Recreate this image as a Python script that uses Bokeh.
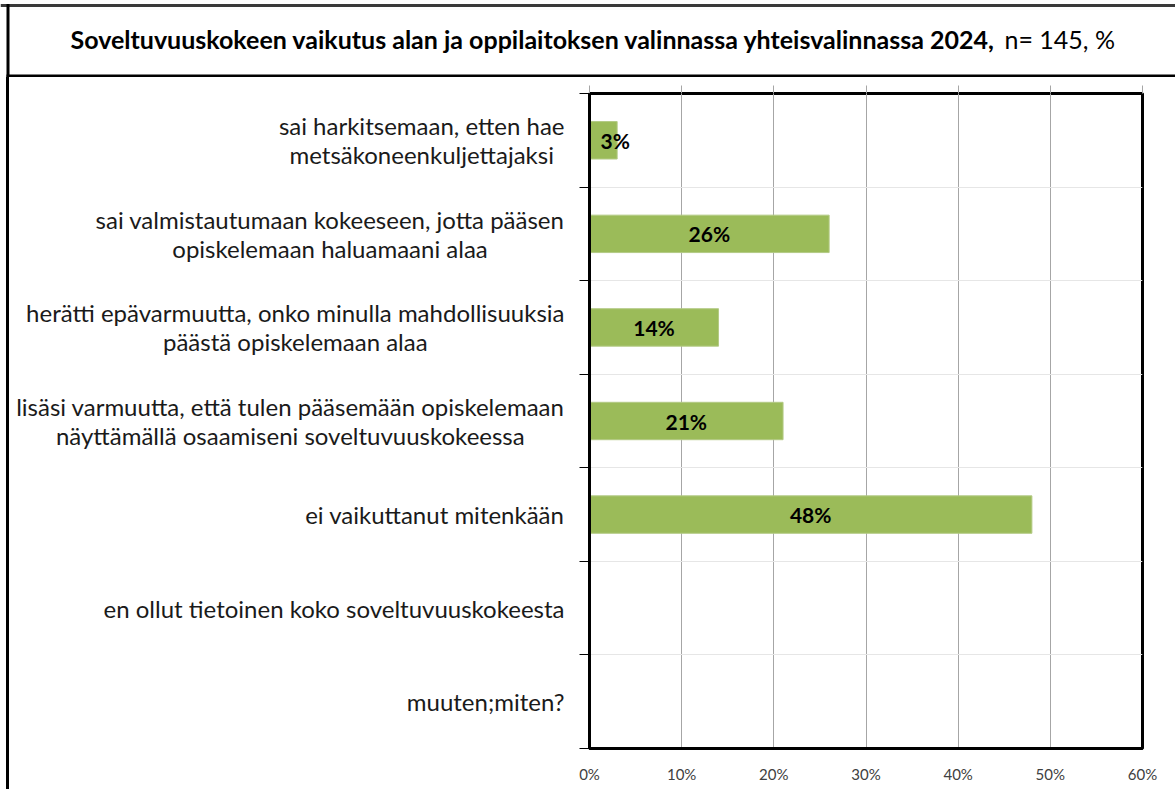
from bokeh.plotting import figure
from bokeh.models import Range1d, FixedTicker, LinearAxis, ColumnDataSource, Div
from bokeh.layouts import column, row
from bokeh.core.properties import value
from bokeh.embed import file_html
from bokeh.resources import INLINE

# ---------------- data ----------------
categories = [
    "sai harkitsemaan, etten hae\nmetsäkoneenkuljettajaksi",
    "sai valmistautumaan kokeeseen, jotta pääsen\nopiskelemaan haluamaani alaa",
    "herätti epävarmuutta, onko minulla mahdollisuuksia\npäästä opiskelemaan alaa",
    "lisäsi varmuutta, että tulen pääsemään opiskelemaan\nnäyttämällä osaamiseni soveltuvuuskokeessa",
    "ei vaikuttanut mitenkään",
    "en ollut tietoinen koko soveltuvuuskokeesta",
    "muuten;miten?",
]
values = [3, 26, 14, 21, 48, 0, 0]
x_ticks = [0, 10, 20, 30, 40, 50, 60]
x_tick_labels = ["0%", "10%", "20%", "30%", "40%", "50%", "60%"]
title_bold = "Soveltuvuuskokeen vaikutus alan ja oppilaitoksen valinnassa yhteisvalinnassa 2024,"
title_rest = "n= 145, %"

# ---------------- layout (page pixels) ----------------
W, H = 1175, 789
TITLE_H = 77                         # height of the title box strip
EDGE_W = 9                           # strip holding the outer left border line
LAB_W = 560                          # width of the category-label strip
FL, FR, FT, FB = 589, 1142, 93, 748  # chart frame edges on the page
XMAX = 60
N = len(categories)
FONT = "Lato"


def bare(fig):
    fig.grid.visible = False
    fig.outline_line_color = None
    fig.background_fill_color = "white"
    fig.border_fill_color = "white"
    return fig


# ---------------- title strip (box lines drawn as CSS shadows) ----------------
pt = bare(figure(width=W, height=TITLE_H, x_range=Range1d(0, W), y_range=Range1d(TITLE_H, 0),
                 x_axis_location=None, y_axis_location=None, min_border=0,
                 output_backend="svg", toolbar_location=None))
pt.quad(left=[0], right=[W], top=[3.5], bottom=[6.5], fill_color="#3a3a3a", line_color=None)
pt.quad(left=[6], right=[9], top=[3.5], bottom=[TITLE_H], fill_color="black", line_color=None)
pt.quad(left=[6], right=[W], top=[74], bottom=[77], fill_color="black", line_color=None)
pt.text(x=[70], y=[38], text=[title_bold], text_align="left", text_baseline="middle",
        text_font=value(FONT), text_font_style="bold", text_font_size="25px", text_color="black")
pt.text(x=[1004], y=[38], text=[title_rest], text_align="left", text_baseline="middle",
        text_font=value(FONT), text_font_size="25px", text_color="black")
# cover strip at the far right (no right border in the original)
pt.quad(left=[W - 6], right=[W], top=[7], bottom=[73.5], fill_color="white", line_color=None)

# ---------------- outer left border of the chart box ----------------
edge = Div(text="", width=EDGE_W, height=H - TITLE_H, margin=0,
           styles={"box-shadow": "inset -3px 0 0 0 black", "background-color": "white"})

# ---------------- category label strip ----------------
ys = [N - i - 0.5 for i in range(N)]
pl = bare(figure(width=LAB_W, height=H - TITLE_H, x_range=Range1d(EDGE_W, EDGE_W + LAB_W),
                 y_range=Range1d(0, N),
                 x_axis_location=None, y_axis_location=None,
                 min_border_left=0, min_border_right=0,
                 min_border_top=FT - TITLE_H, min_border_bottom=H - FB,
                 output_backend="svg", toolbar_location=None))
pl.text(x=[564] * N, y=ys, text=categories, anchor=value("center_right"),
        text_align="center", text_baseline="middle",
        text_font=value(FONT), text_font_size="24px", text_line_height=1.0,
        text_color="#1a1a1a")

# ---------------- chart ----------------
CW = W - EDGE_W - LAB_W
CH = H - TITLE_H
OX = EDGE_W + LAB_W
p = figure(width=CW, height=CH, x_range=Range1d(0, XMAX), y_range=Range1d(0, N),
           output_backend="svg", toolbar_location=None,
           min_border_left=FL - OX, min_border_right=CW - (FR - OX),
           min_border_top=FT - TITLE_H, min_border_bottom=H - FB)
p.background_fill_color = "white"
p.border_fill_color = "white"
p.outline_line_color = "black"
p.outline_line_width = 3

p.xgrid.ticker = FixedTicker(ticks=x_ticks)
p.xgrid.grid_line_color = "#a6a6a6"
p.xgrid.grid_line_width = 1
p.ygrid.ticker = FixedTicker(ticks=list(range(N + 1)))
p.ygrid.grid_line_color = "#e6e6e6"
p.ygrid.grid_line_width = 1

xa = p.xaxis[0]
xa.ticker = FixedTicker(ticks=x_ticks)
xa.major_label_overrides = {t: l for t, l in zip(x_ticks, x_tick_labels)}
xa.major_tick_out = 0
xa.major_tick_in = 0
xa.minor_tick_out = 0
xa.minor_tick_in = 0
xa.axis_line_width = 3
xa.axis_line_color = "black"
xa.major_label_standoff = 16
xa.major_label_text_font = FONT
xa.major_label_text_font_size = "15px"
xa.major_label_text_color = "#404040"

ya = p.yaxis[0]
ya.ticker = FixedTicker(ticks=list(range(N + 1)))
ya.major_label_overrides = {i: "" for i in range(N + 1)}
ya.major_tick_out = 10
ya.major_tick_in = 0
ya.minor_tick_out = 0
ya.minor_tick_in = 0
ya.major_tick_line_color = "black"
ya.axis_line_width = 3
ya.axis_line_color = "black"
ya.major_label_standoff = 0
ya.major_label_text_font_size = "1px"

# small grey stubs of the vertical gridlines above the frame
top_ax = LinearAxis(ticker=FixedTicker(ticks=x_ticks),
                    major_label_overrides={t: "" for t in x_ticks})
top_ax.axis_line_color = None
top_ax.major_tick_out = 8
top_ax.major_tick_in = 0
top_ax.minor_tick_out = 0
top_ax.minor_tick_in = 0
top_ax.major_tick_line_color = "#a6a6a6"
top_ax.major_label_standoff = 0
top_ax.major_label_text_font_size = "1px"
p.add_layout(top_ax, "above")

src = ColumnDataSource(dict(y=ys, v=values))
p.hbar(y="y", left=0, right="v", height=0.4, source=src,
       fill_color="#9BBB59", line_color="#b3ca85", line_width=1)

lab_y = [y for y, v in zip(ys, values) if v > 0]
lab_v = [v for v in values if v > 0]
lab_x = [max(v / 2, 2.8) for v in lab_v]
lab_t = [f"{v}%" for v in lab_v]
lsrc = ColumnDataSource(dict(x=lab_x, y=lab_y, t=lab_t))
p.text(x="x", y="y", text="t", source=lsrc, text_align="center", text_baseline="middle",
       text_font=value(FONT), text_font_style="bold", text_font_size="21px",
       text_color="black")

layout = column(pt, row(edge, pl, p, spacing=0), spacing=0)
open("out.html", "w").write(file_html(layout, INLINE))
